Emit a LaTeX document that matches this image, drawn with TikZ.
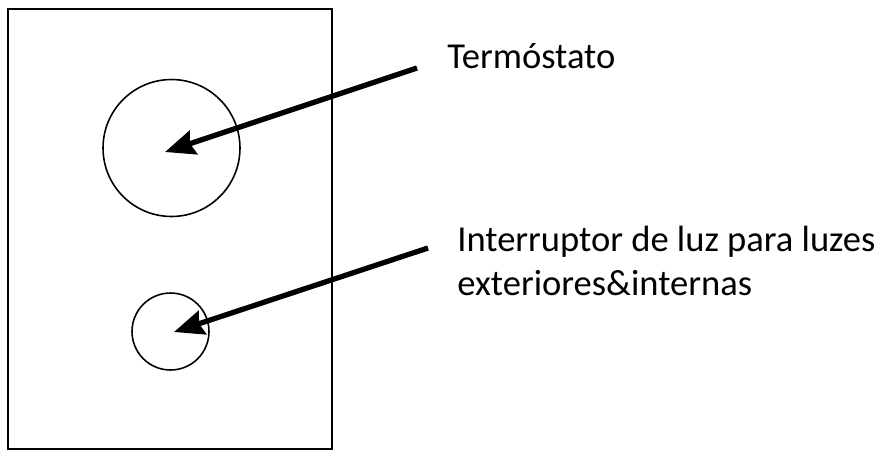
\documentclass[tikz,border=0pt]{standalone}
\usepackage{fontspec}
\setmainfont{Carlito}
\usetikzlibrary{arrows.meta}

\tikzset{
  etiqueta/.style={anchor=base west, inner sep=0pt, align=left,
    font=\fontsize{20.8}{24.5}\selectfont},
  boton/.style={draw, circle, line width=0.9pt, inner sep=0pt},
  flecha/.style={line width=3pt, -{Stealth[length=17pt,width=14pt,inset=2pt]}}
}

\begin{document}
\begin{tikzpicture}[x=0.02cm,y=-0.02cm]
  \useasboundingbox (0,0) rectangle (881,457);
  % Panel
  \draw[line width=1.1pt] (8,9) rectangle (332,449);
  % Botones
  \node(termo)[boton, minimum size=2.74cm] at (171.5,148) {};
  \node(interruptor)[boton, minimum size=1.54cm] at (170.5,331.5) {};
  % Textos
  \node(txtTermo)[etiqueta] at (447,68) {Termóstato};
  \node(txtInterruptor)[etiqueta] at (457,295) {Interruptor de luz para luzes\\exteriores\&internas};
  % Flechas
  \coordinate(ini1) at (417,68);
  \coordinate(fin1) at (165,152);
  \coordinate(ini2) at (428,248);
  \coordinate(fin2) at (174,332);
  \draw[flecha] (ini1) -- (fin1);
  \draw[flecha] (ini2) -- (fin2);
\end{tikzpicture}
\end{document}
